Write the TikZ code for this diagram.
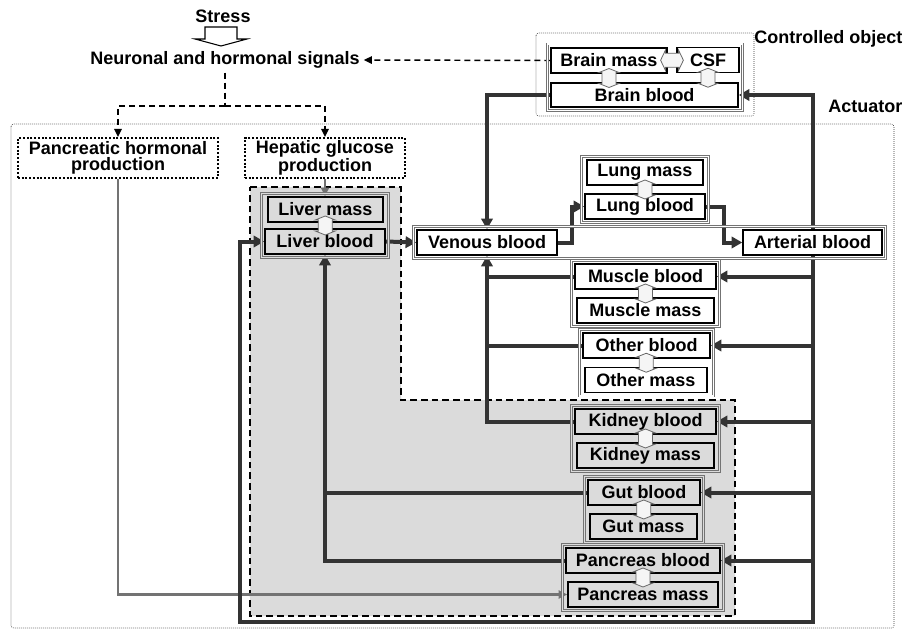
\documentclass[tikz,border=0pt]{standalone}
\usepackage{fontspec}
\setmainfont{Liberation Sans}
\usetikzlibrary{arrows.meta,calc,fit,backgrounds}
\definecolor{shade}{gray}{0.86}

\begin{document}
\begin{tikzpicture}[x=0.75pt,y=-0.75pt,
    txt/.style={font=\bfseries\fontsize{13.5pt}{12pt}\selectfont},
    box/.style={txt, draw=black, line width=1.1pt, fill=white, minimum height=18.75pt, inner sep=0pt},
    gbox/.style={box, fill=shade},
    grp/.style={draw=black!55, line width=0.4pt, double=white, double distance=1.3pt, inner sep=2pt},
    ggrp/.style={grp, double=shade},
    prod/.style={txt, draw=black, line width=1.5pt, dash pattern=on 1.5pt off 1.3pt, align=center, minimum height=30pt, inner sep=0pt},
    frame/.style={draw=black!80, line width=0.5pt, densely dotted, rounded corners=2pt},
    flow/.style={draw=black!80, line width=3pt, -{Triangle[length=8pt,width=8.5pt]}},
    sig/.style={draw=black, line width=1.1pt, dash pattern=on 4.5pt off 3pt, -{Triangle[length=6pt,width=5.5pt]}},
    ctl/.style={draw=black!55, line width=1.7pt, -{Triangle[length=6.5pt,width=6pt]}},
    xarr/.style={draw=black!60, fill=black!4, line width=0.6pt},
    xchg/.pic={\path[xarr] (0,-9.5) -- (10,-5.5) -- (7,-5.5) -- (7,5.5) -- (10,5.5) -- (0,9.5) -- (-10,5.5) -- (-7,5.5) -- (-7,-5.5) -- (-10,-5.5) -- cycle;}
  ]
\useasboundingbox (0,0) rectangle (908,635);

% signals
\node[txt] (stress) at (223,16) {Stress};
\node[txt, inner sep=3pt] (signals) at (225,60) {Neuronal and hormonal signals};
\draw[draw=black, line width=0.8pt, fill=white] (205,27) -- (205,39) -- (195,39) -- (221,46) -- (247,39) -- (237,39) -- (237,27) -- cycle;
\node[txt, anchor=east] (ctrllbl) at (907,39) {Controlled object};
\node[txt, anchor=east] (actlbl) at (907,106) {Actuator};

% production
\node[prod, minimum width=150pt] (panc) at (118,158) {Pancreatic hormonal\\production};
\node[prod, minimum width=120pt] (hep) at (325,158) {Hepatic glucose\\production};

% brain
\node[box, minimum width=87pt] (brainm) at (609,60.5) {Brain mass};
\node[box, minimum width=46.5pt] (csf) at (708,60) {CSF};
\node[box, minimum width=140.25pt, minimum height=18pt] (brainb) at (644.5,95) {Brain blood};

% organs
\node[box, minimum width=87pt] (lungm) at (645,172.5) {Lung mass};
\node[box, minimum width=90pt] (lungb) at (645,206.5) {Lung blood};
\node[box, minimum width=105pt] (venb) at (487,242.5) {Venous blood};
\node[box, minimum width=104.25pt] (artb) at (812.5,242.5) {Arterial blood};
\node[gbox, minimum width=86.25pt] (liverm) at (325.5,209.5) {Liver mass};
\node[gbox, minimum width=90pt] (liverb) at (325,241.5) {Liver blood};
\node[box, minimum width=105.75pt] (musb) at (645.5,276.5) {Muscle blood};
\node[box, minimum width=102.75pt] (musm) at (645.5,310.5) {Muscle mass};
\node[box, minimum width=95.25pt] (othb) at (646.5,345.5) {Other blood};
\node[box, minimum width=91.5pt] (othm) at (646,380) {Other mass};
\node[gbox, minimum width=105.75pt] (kidb) at (645.5,421.5) {Kidney blood};
\node[gbox, minimum width=102.75pt] (kidm) at (645.5,455.5) {Kidney mass};
\node[gbox, minimum width=84pt] (gutb) at (644,492.5) {Gut blood};
\node[gbox, minimum width=80.25pt] (gutm) at (643.5,526.5) {Gut mass};
\node[gbox, minimum width=115.5pt] (panb) at (643,560.5) {Pancreas blood};
\node[gbox, minimum width=112.5pt] (panm) at (643,594.5) {Pancreas mass};

% groups
\node[grp, fit=(brainm)(csf)(brainb)] (braingrp) {};
\node[grp, fit=(lungm)(lungb)] (lunggrp) {};
\node[grp, fit=(venb)(artb)] (vagrp) {};
\node[ggrp, fit=(liverm)(liverb)] (livergrp) {};
\node[grp, fit=(musb)(musm)] (musgrp) {};
\node[grp, fit=(othb)(othm)] (othgrp) {};
\node[ggrp, fit=(kidb)(kidm)] (kidgrp) {};
\node[ggrp, fit=(gutb)(gutm)] (gutgrp) {};
\node[ggrp, fit=(panb)(panm)] (pangrp) {};

% exchange
\pic at ($(brainm.south)!.5!(brainm.south |- brainb.north)$) {xchg};
\pic at ($(csf.south)!.5!(csf.south |- brainb.north)$) {xchg};
\pic[rotate=90, yscale=1.2] at ($(brainm.east)!.5!(csf.west)$) {xchg};
\pic at ($(lungm.south)!.5!(lungb.north)$) {xchg};
\pic at ($(liverm.south)!.5!(liverb.north)$) {xchg};
\pic at ($(musb.south)!.5!(musm.north)$) {xchg};
\pic at ($(othb.south)!.5!(othm.north)$) {xchg};
\pic at ($(kidb.south)!.5!(kidm.north)$) {xchg};
\pic at ($(gutb.south)!.5!(gutm.north)$) {xchg};
\pic at ($(panb.south)!.5!(panm.north)$) {xchg};

\coordinate (split) at (225,106);
\coordinate (trbot) at (813,622);
\coordinate (botleft) at (240,622);

\begin{scope}[on background layer]
\draw[frame] (536,33) rectangle (754,116);
\draw[frame] (11,124) rectangle (894,628);
\path[fill=shade, draw=black, line width=0.8pt, dash pattern=on 5pt off 3pt]
  (250,187) -- (401,187) -- (401,400) -- (735,400) -- (735,616) -- (250,616) -- cycle;

\draw[sig] (brainm.west) -- (signals.east);
\draw[sig, -] (signals.south) -- (split);
\draw[sig] (split) -| (panc.north);
\draw[sig] (split) -| (hep.north);

\draw[ctl] (hep.south) -- (hep.south |- liverm.north);
\draw[ctl] (panc.south) |- (panm.west);

\draw[flow] (brainb.west) -| (venb.north);
\draw[flow, {Triangle[length=8pt,width=8.5pt]}-{Triangle[length=8pt,width=8.5pt]}]
  (liverb.west) -| (botleft) -- (trbot) |- (brainb.east);
\draw[flow] (liverb.east) -- (venb.west);
\draw[flow] (venb.east) -- ++(14,0) |- (lungb.west);
\draw[flow] (lungb.east) -- ++(18,0) |- (artb.west);

\draw[flow] (trbot |- musb.east) -- (musb.east);
\draw[flow] (trbot |- othb.east) -- (othb.east);
\draw[flow] (trbot |- kidb.east) -- (kidb.east);
\draw[flow] (trbot |- gutb.east) -- (gutb.east);
\draw[flow] (trbot |- panb.east) -- (panb.east);

\draw[flow, -] (musb.west) -- (musb.west -| venb.south);
\draw[flow, -] (othb.west) -- (othb.west -| venb.south);
\draw[flow] (kidb.west) -| (venb.south);
\draw[flow, -] (gutb.west) -- (gutb.west -| liverb.south);
\draw[flow] (panb.west) -| (liverb.south);
\end{scope}
\end{tikzpicture}
\end{document}
